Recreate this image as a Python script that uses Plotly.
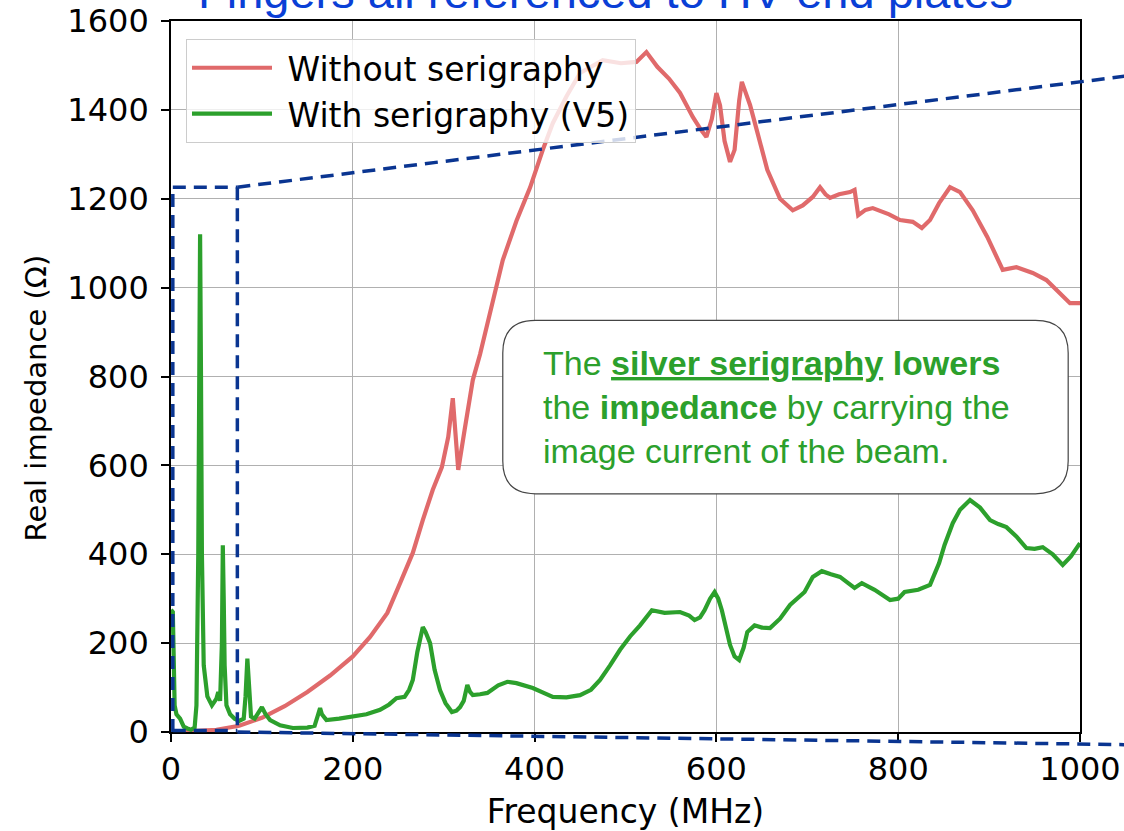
import plotly.graph_objects as go

# Real part of the longitudinal impedance, without and with silver serigraphy
freq_no_serig = [2, 25, 50, 75, 100, 125, 150, 175, 200, 219, 238, 252, 266, 277, 288, 298,
                 305, 310, 316, 323, 332, 340, 350, 365, 380, 395, 409, 420, 435, 450, 475,
                 495, 512, 523, 535, 548, 560, 574, 583, 589, 595, 600, 604, 609, 615, 620,
                 625, 628, 632, 637, 645, 656, 670, 684, 695, 706, 714, 720, 725, 735, 747,
                 752, 756, 764, 772, 790, 802, 816, 826, 835, 845, 857, 868, 882, 898, 915,
                 930, 948, 963, 978, 989, 1000]
z_no_serig = [0, 2, 5, 14, 32, 58, 90, 127, 170, 214, 268, 335, 403, 477, 545, 596,
              664, 751, 590, 680, 792, 850, 935, 1062, 1150, 1225, 1310, 1370, 1430, 1483, 1512,
              1505, 1508, 1530, 1497, 1470, 1438, 1384, 1355, 1339, 1380, 1438, 1410, 1330, 1283, 1310,
              1420, 1463, 1440, 1411, 1350, 1265, 1200, 1174, 1185, 1204, 1226, 1210, 1202, 1210, 1215,
              1220, 1163, 1175, 1179, 1165, 1152, 1148, 1134, 1152, 1190, 1226, 1215, 1174, 1114, 1040,
              1046, 1033, 1017, 988, 965, 965]

freq_serig = [0, 2, 4, 6, 10, 14, 18, 22, 26, 28, 30, 31, 32, 33, 34, 36, 40, 45, 50, 52,
              54, 56, 57, 58, 59, 61, 65, 70, 75, 80, 82, 84, 86, 88, 92, 96, 100, 104, 109,
              120, 134, 150, 158, 162, 164, 166, 171, 185, 200, 215, 230, 240, 248, 257, 262,
              266, 271, 275, 277, 280, 285, 290, 296, 302, 309, 314, 318, 322, 326, 329, 332,
              340, 348, 360, 370, 380, 398, 410, 420, 435, 450, 462, 472, 483, 494, 505, 516,
              529, 543, 560, 570, 576, 582, 587, 593, 598, 602, 606, 610, 615, 620, 625, 630,
              634, 642, 650, 659, 670, 681, 697, 706, 716, 726, 736, 745, 752, 760, 767, 774,
              791, 800, 807, 822, 835, 845, 851, 860, 868, 879, 890, 901, 910, 919, 930, 941,
              950, 959, 970, 981, 990, 1000]
z_serig = [275, 270, 60, 40, 30, 12, 8, 5, 10, 60, 400, 800, 1120, 800, 400, 150, 80, 60, 75, 90,
           70, 200, 420, 300, 150, 60, 40, 30, 25, 30, 80, 165, 80, 35, 30, 45, 56, 40, 27,
           15, 9, 10, 14, 40, 54, 40, 27, 30, 34, 40, 50, 62, 76, 79, 95,
           117, 180, 225, 236, 225, 200, 140, 94, 65, 45, 48, 56, 70, 106, 90, 83,
           85, 88, 105, 113, 110, 99, 88, 79, 78, 83, 95, 117, 150, 185, 215, 240,
           274, 268, 270, 262, 252, 258, 274, 300, 315, 300, 274, 235, 196, 170, 162, 190,
           225, 240, 235, 234, 255, 286, 315, 349, 362, 355, 349, 335, 324, 335, 328, 320,
           297, 300, 315, 320, 331, 380, 421, 470, 500, 522, 505, 477, 468, 461, 440, 414,
           412, 416, 400, 376, 395, 425]

x_ticks = [0, 200, 400, 600, 800, 1000]
y_ticks = [0, 200, 400, 600, 800, 1000, 1200, 1400, 1600]

X_MAX = 1000
Y_MAX = 1600

# Low-frequency window highlighted with a dashed frame and its guide lines
zoom_f_max = 73
zoom_z_max = 1226

title_text = "Fingers all referenced to HV end plates"
x_label = "Frequency (MHz)"
y_label = "Real impedance (Ω)"
note_text = ("The <b><u>silver serigraphy</u> lowers</b><br>"
             "the <b>impedance</b> by carrying the<br>"
             "image current of the beam.")

RED = "#e06a6b"
GREEN = "#2ca02c"
NAVY = "#0a3591"
TICK_FONT = dict(family="DejaVu Sans", size=32, color="#000000")
LABEL_FONT = dict(family="DejaVu Sans", size=33, color="#000000")

fig = go.Figure()
fig.add_trace(go.Scatter(x=freq_no_serig, y=z_no_serig, mode="lines",
                         name="\u00a0Without serigraphy",
                         line=dict(color=RED, width=4.2)))
fig.add_trace(go.Scatter(x=freq_serig, y=z_serig, mode="lines",
                         name="\u00a0With serigraphy (V5)",
                         line=dict(color=GREEN, width=4.2)))

# dashed frame around the low-frequency region
zx = zoom_f_max / X_MAX
zy = zoom_z_max / Y_MAX
dash_line = dict(color=NAVY, width=3.5, dash="13px,8px")
shapes = [
    dict(type="line", xref="paper", yref="paper", x0=0.002, y0=0, x1=0.002, y1=zy, line=dash_line),
    dict(type="line", xref="paper", yref="paper", x0=0.002, y0=zy, x1=zx, y1=zy, line=dash_line),
    dict(type="line", xref="paper", yref="paper", x0=zx, y0=zy, x1=zx, y1=0, line=dash_line),
    dict(type="line", xref="paper", yref="paper", x0=0.002, y0=0.002, x1=zx, y1=0.002, line=dash_line),
    dict(type="line", xref="paper", yref="paper", x0=zx, y0=zy, x1=1.06, y1=0.924, line=dash_line),
    dict(type="line", xref="paper", yref="paper", x0=zx, y0=0.0, x1=1.06, y1=-0.018, line=dash_line),
]

# rounded note box
bx0, bx1, by0, by1 = 0.365, 0.987, 0.335, 0.579
rx, ry = 0.036, 0.046
path = (f"M{bx0 + rx},{by1} L{bx1 - rx},{by1} Q{bx1},{by1} {bx1},{by1 - ry} "
        f"L{bx1},{by0 + ry} Q{bx1},{by0} {bx1 - rx},{by0} "
        f"L{bx0 + rx},{by0} Q{bx0},{by0} {bx0},{by0 + ry} "
        f"L{bx0},{by1 - ry} Q{bx0},{by1} {bx0 + rx},{by1} Z")
shapes.append(dict(type="path", xref="paper", yref="paper", path=path,
                   fillcolor="white", line=dict(color="#444444", width=1.2), layer="above"))

fig.update_layout(
    width=1124, height=831,
    margin=dict(l=171, r=44, t=21, b=99, autoexpand=False),
    paper_bgcolor="white", plot_bgcolor="white",
    font=TICK_FONT,
    showlegend=True,
    legend=dict(x=0.0165, y=0.975, xanchor="left", yanchor="top",
                bgcolor="rgba(255,255,255,0.8)", bordercolor="#cccccc", borderwidth=1,
                font=LABEL_FONT, itemwidth=80, tracegroupgap=0),
    shapes=shapes,
    annotations=[
        dict(text=title_text, xref="paper", yref="paper", x=0.4775, y=1.041,
             xanchor="center", yanchor="middle", showarrow=False,
             font=dict(family="Liberation Sans", size=47, color="#0a3fd6")),
        dict(text=y_label, xref="paper", yref="paper", x=-0.149, y=0.47,
             xanchor="center", yanchor="middle", textangle=-90, showarrow=False,
             font=dict(family="DejaVu Sans", size=29, color="#000000")),
        dict(text=note_text, xref="paper", yref="paper", x=0.407, y=0.457,
             xanchor="left", yanchor="middle", align="left", showarrow=False,
             font=dict(family="Liberation Sans", size=34, color=GREEN)),
    ],
)
fig.update_xaxes(range=[0, X_MAX], tickvals=x_ticks, ticktext=[str(v) for v in x_ticks],
                 showgrid=True, gridcolor="#b0b0b0", gridwidth=1.3,
                 showline=True, linecolor="black", linewidth=1.6, mirror=True,
                 ticks="outside", ticklen=8, tickwidth=1.5, tickcolor="black",
                 zeroline=False, tickfont=TICK_FONT, automargin=False,
                 title=dict(text=x_label, font=LABEL_FONT))
fig.update_yaxes(range=[0, Y_MAX], tickvals=y_ticks, ticktext=[str(v) for v in y_ticks],
                 showgrid=True, gridcolor="#b0b0b0", gridwidth=1.3,
                 showline=True, linecolor="black", linewidth=1.6, mirror=True,
                 ticks="outside", ticklen=8, tickwidth=1.5, tickcolor="black",
                 ticklabelstandoff=6,
                 zeroline=False, tickfont=TICK_FONT, automargin=False)

fig.write_html("out.html")
